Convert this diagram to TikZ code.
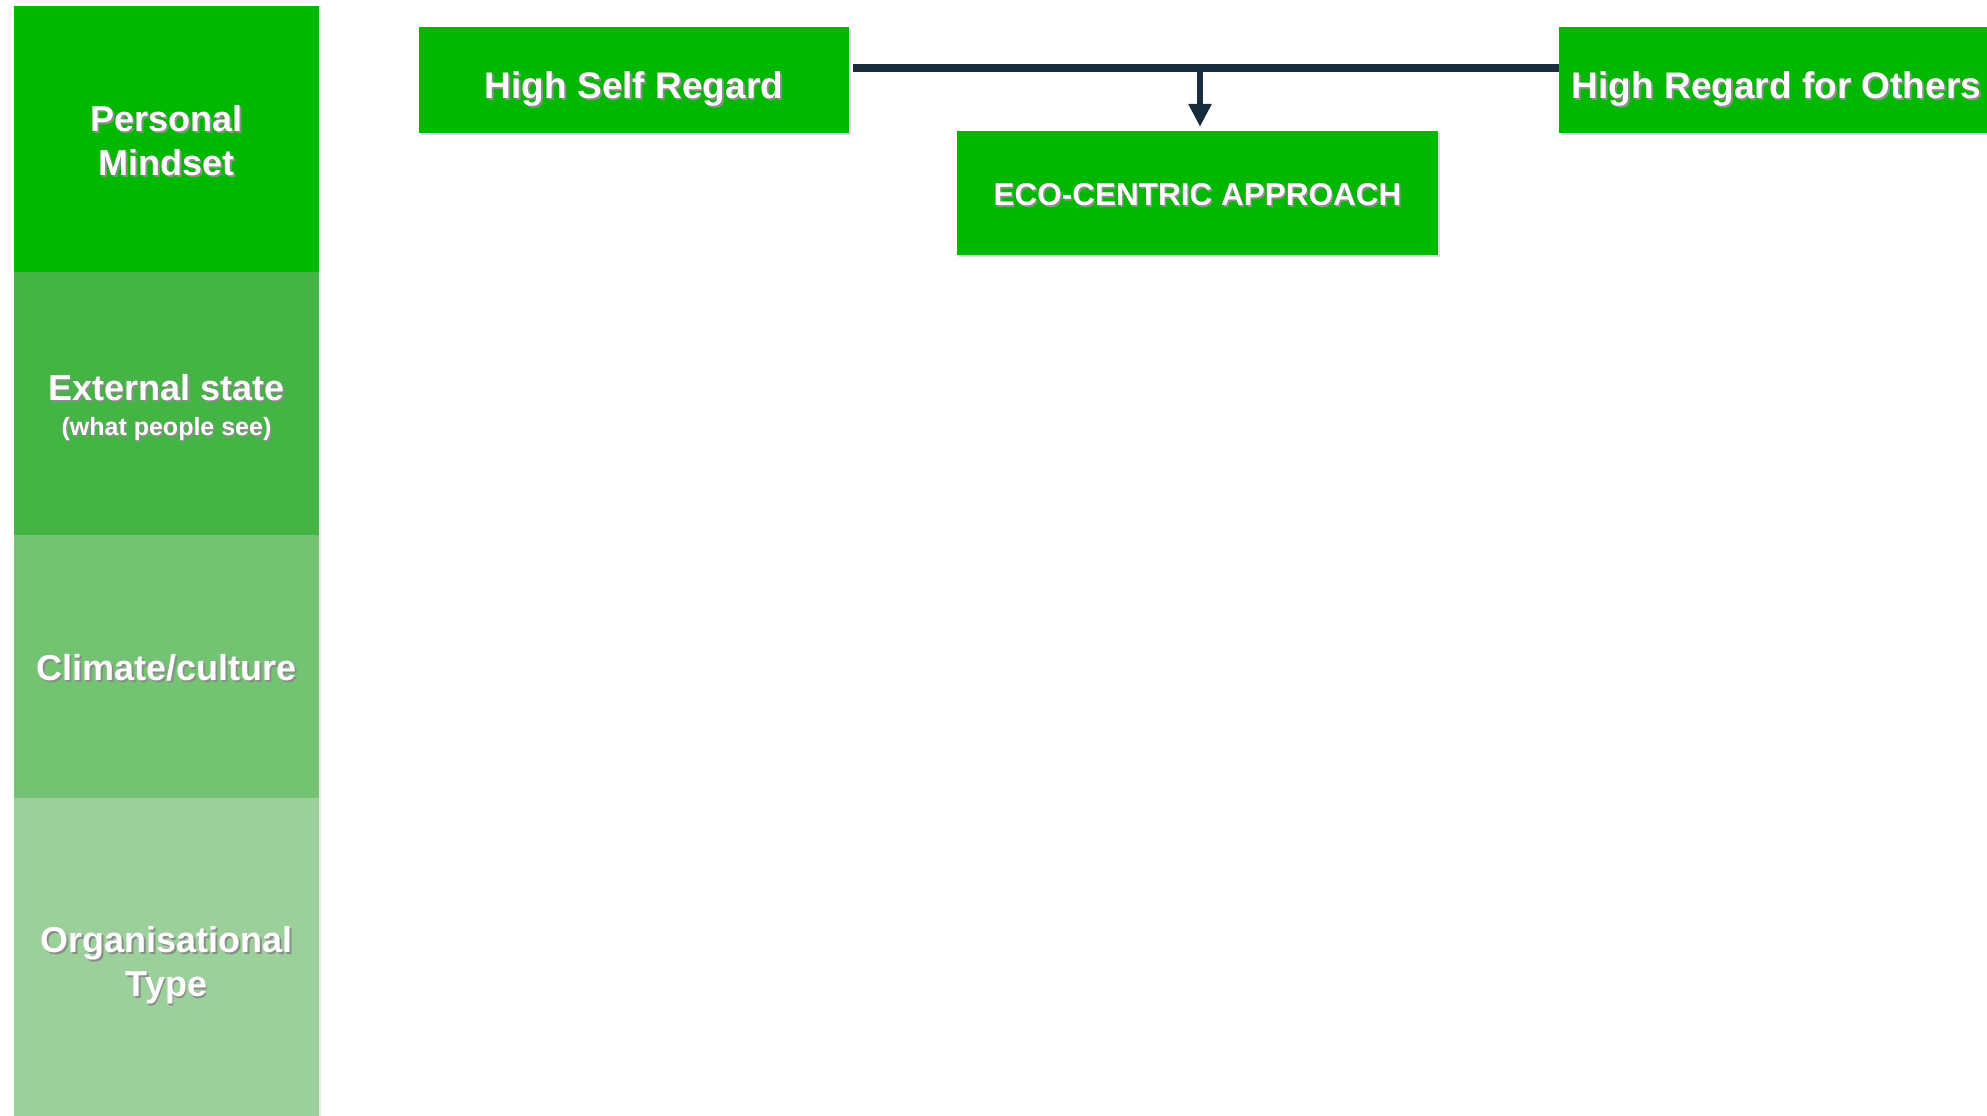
\documentclass[tikz,border=0pt]{standalone}
\usepackage{fontspec}
\setmainfont{Liberation Sans}
\usetikzlibrary{arrows.meta,shadows}
\definecolor{gA}{RGB}{0,184,0}
\definecolor{gB}{RGB}{68,181,68}
\definecolor{gC}{RGB}{115,195,115}
\definecolor{gD}{RGB}{155,208,155}
\definecolor{navy}{RGB}{23,44,60}
\newcommand{\shd}[1]{\leavevmode\rlap{\hspace{1.6pt}\raisebox{-1.8pt}{\textcolor{black!45}{#1}}}#1}
\newcommand{\lift}[1]{\rule{0pt}{#1}}
\tikzset{
  band/.style={rectangle, draw=none, minimum width=305pt, inner sep=0pt, text=white,
    font=\bfseries\fontsize{36}{44}\selectfont, align=center,
    drop shadow={opacity=0.18, shadow xshift=2pt, shadow yshift=0pt}},
  gbox/.style={rectangle, draw=none, fill=gA, inner sep=0pt, text=white,
    font=\bfseries\fontsize{37}{44}\selectfont, align=center,
    drop shadow={opacity=0.3, shadow xshift=2pt, shadow yshift=-2pt}},
  conn/.style={draw=navy, line width=8pt},
  arr/.style={draw=navy, line width=6pt, -{Triangle[width=22pt,length=23pt]}}
}
\begin{document}
\begin{tikzpicture}[x=1pt,y=-1pt]
\useasboundingbox (0,0) rectangle (1987,1116);
\begin{scope}
\clip (0,0) rectangle (1987,1116);
\node[band, fill=gA, minimum height=266pt] (pm) at (166.5,139) {\lift{31pt}\shd{Personal}\\\shd{Mindset}};
\node[band, fill=gB, minimum height=263pt] (es) at (166.5,403.5) {\lift{36pt}\shd{External state}\\[-9pt]{\fontsize{25}{30}\selectfont\shd{(what people see)}}};
\node[band, fill=gC, minimum height=263pt] (cc) at (166.5,666.5) {\lift{31pt}\shd{Climate/culture}};
\node[band, fill=gD, minimum height=318pt] (ot) at (166.5,957) {\lift{44pt}\shd{Organisational}\\\shd{Type}};

\node[gbox, minimum width=430pt, minimum height=106pt] (hsr) at (634,80) {\lift{46.5pt}\shd{High Self Regard}};
\node[gbox, minimum width=481pt, minimum height=124pt, font=\bfseries\fontsize{31.5}{38}\selectfont] (eco) at (1197.5,193) {\lift{27.6pt}\shd{ECO-CENTRIC APPROACH}};
\node[gbox, minimum width=435pt, minimum height=106pt] (hro) at (1776.5,80) {\lift{46.5pt}\shd{High Regard for Others}};

\draw[conn] ([xshift=4pt,yshift=12pt]hsr.east) -- ([yshift=12pt]hro.west);
\coordinate (jn) at (1200,68);
\draw[arr] (jn) -- ([xshift=2.5pt,yshift=4pt]eco.north);
\end{scope}
\end{tikzpicture}
\end{document}
